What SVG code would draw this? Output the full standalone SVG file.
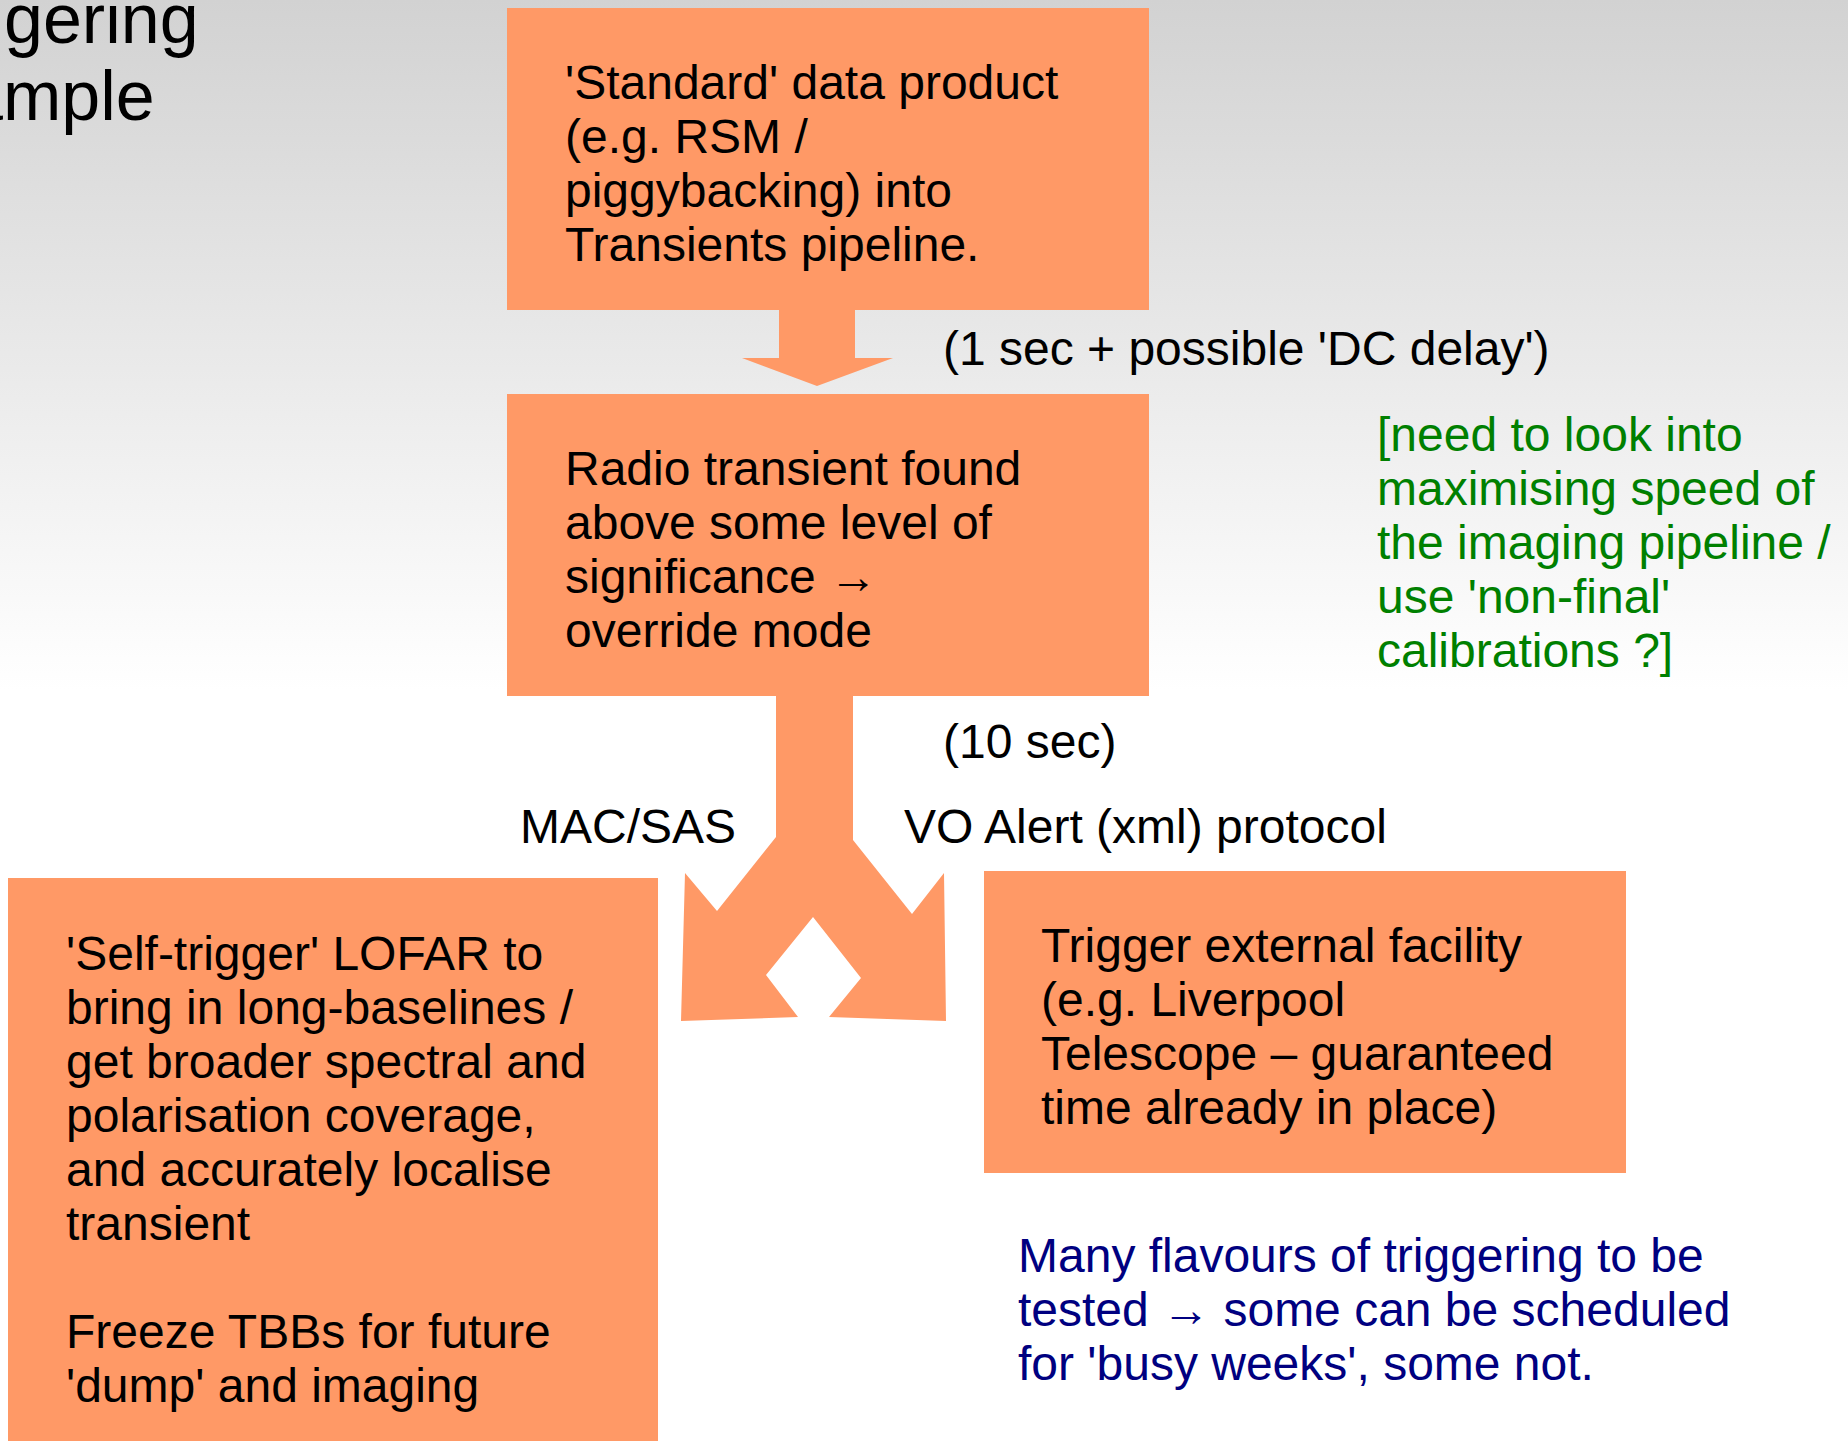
<svg xmlns="http://www.w3.org/2000/svg" width="1848" height="1441" viewBox="0 0 1848 1441">
  <defs>
    <linearGradient id="bg" x1="0" y1="0" x2="0" y2="690" gradientUnits="userSpaceOnUse">
      <stop offset="0" stop-color="#d2d2d2"/>
      <stop offset="1" stop-color="#ffffff"/>
    </linearGradient>
    <style>
      .box { fill: #ff9966; }
      .arrow { fill: #ff9966; }
      text { font-family: "Liberation Sans", Arial, sans-serif; font-size: 48px; fill: #000000; }
      .title { font-size: 70px; }
      .green { fill: #008000; }
      .blue { fill: #000080; }
    </style>
  </defs>
  <rect x="0" y="0" width="1848" height="1441" fill="url(#bg)"/>

  <g id="title">
    <text class="title" x="4" y="43">gering</text>
    <text class="title" x="-36" y="120">ample</text>
  </g>

  <g id="connectors">
    <polygon class="arrow" points="779,309 779,358 742,358 817,386 893,358 855,358 855,309"/>
    <polygon class="arrow" points="776,694 776,837 717,911 685,873 681,1021 798,1017 766,975 813,917 861,978 829,1017 946,1021 944,873 912,914 853,840 853,694"/>
    <text x="943" y="365">(1 sec + possible 'DC delay')</text>
    <text x="943" y="758">(10 sec)</text>
    <text x="520" y="843">MAC/SAS</text>
    <text x="904" y="843">VO Alert (xml) protocol</text>
  </g>

  <g id="node-standard">
    <rect class="box" x="507" y="8" width="642" height="302"/>
    <text x="565" y="99">'Standard' data product</text>
    <text x="565" y="153">(e.g. RSM /</text>
    <text x="565" y="207">piggybacking) into</text>
    <text x="565" y="261">Transients pipeline.</text>
  </g>

  <g id="node-radio">
    <rect class="box" x="507" y="394" width="642" height="302"/>
    <text x="565" y="485">Radio transient found</text>
    <text x="565" y="539">above some level of</text>
    <text x="565" y="593">significance →</text>
    <text x="565" y="647">override mode</text>
  </g>

  <g id="node-self-trigger">
    <rect class="box" x="8" y="878" width="650" height="563"/>
    <text x="66" y="970">'Self-trigger' LOFAR to</text>
    <text x="66" y="1024">bring in long-baselines /</text>
    <text x="66" y="1078">get broader spectral and</text>
    <text x="66" y="1132">polarisation coverage,</text>
    <text x="66" y="1186">and accurately localise</text>
    <text x="66" y="1240">transient</text>
    <text x="66" y="1348">Freeze TBBs for future</text>
    <text x="66" y="1402">'dump' and imaging</text>
  </g>

  <g id="node-external">
    <rect class="box" x="984" y="871" width="642" height="302"/>
    <text x="1041" y="962">Trigger external facility</text>
    <text x="1041" y="1016">(e.g. Liverpool</text>
    <text x="1041" y="1070">Telescope – guaranteed</text>
    <text x="1041" y="1124">time already in place)</text>
  </g>

  <g id="note-green">
    <text class="green" x="1377" y="451">[need to look into</text>
    <text class="green" x="1377" y="505">maximising speed of</text>
    <text class="green" x="1377" y="559">the imaging pipeline /</text>
    <text class="green" x="1377" y="613">use 'non-final'</text>
    <text class="green" x="1377" y="667">calibrations ?]</text>
  </g>

  <g id="note-blue">
    <text class="blue" x="1018" y="1272">Many flavours of triggering to be</text>
    <text class="blue" x="1018" y="1326">tested → some can be scheduled</text>
    <text class="blue" x="1018" y="1380">for 'busy weeks', some not.</text>
  </g>
</svg>
